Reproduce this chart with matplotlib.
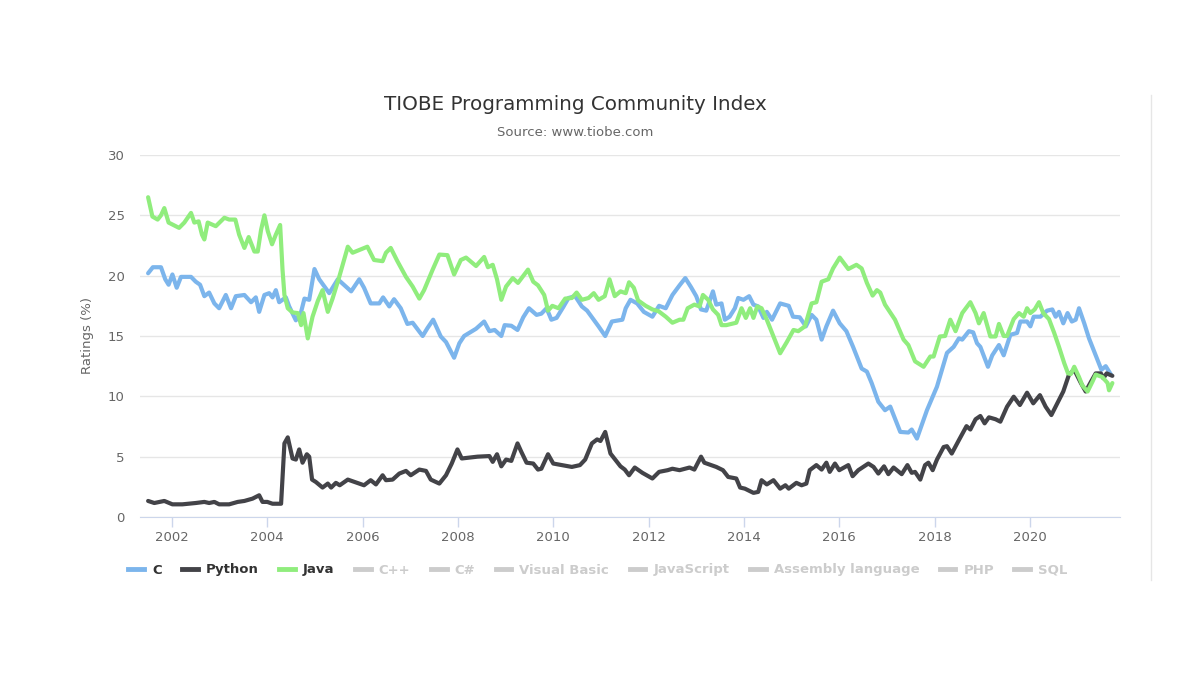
import numpy as np
import matplotlib
matplotlib.use("Agg")
import matplotlib.pyplot as plt
from matplotlib.lines import Line2D

# ratings (decimal year, percent)
c_years = [2001.50, 2001.60, 2001.77, 2001.86, 2001.93, 2002.01, 2002.10, 2002.19, 2002.40, 2002.50,
           2002.59, 2002.68, 2002.78, 2002.89, 2002.99, 2003.13, 2003.24, 2003.34, 2003.52, 2003.66,
           2003.76, 2003.83, 2003.94, 2004.04, 2004.11, 2004.18, 2004.25, 2004.39, 2004.46, 2004.60,
           2004.71, 2004.78, 2004.88, 2004.99, 2005.09, 2005.20, 2005.30, 2005.48, 2005.62, 2005.76,
           2005.93, 2006.03, 2006.17, 2006.35, 2006.43, 2006.56, 2006.66, 2006.80, 2006.94, 2007.05,
           2007.26, 2007.36, 2007.48, 2007.64, 2007.75, 2007.92, 2008.03, 2008.13, 2008.38, 2008.55,
           2008.66, 2008.77, 2008.91, 2008.98, 2009.12, 2009.25, 2009.37, 2009.49, 2009.65, 2009.75,
           2009.86, 2009.96, 2010.07, 2010.21, 2010.32, 2010.46, 2010.60, 2010.71, 2010.85, 2010.95,
           2011.09, 2011.23, 2011.45, 2011.52, 2011.62, 2011.76, 2011.90, 2012.08, 2012.22, 2012.36,
           2012.50, 2012.65, 2012.77, 2012.89, 2013.00, 2013.10, 2013.21, 2013.35, 2013.42, 2013.53,
           2013.60, 2013.70, 2013.81, 2013.88, 2013.99, 2014.11, 2014.20, 2014.30, 2014.41, 2014.48,
           2014.59, 2014.76, 2014.94, 2015.03, 2015.17, 2015.30, 2015.42, 2015.52, 2015.63, 2015.73,
           2015.87, 2016.01, 2016.15, 2016.29, 2016.47, 2016.58, 2016.68, 2016.82, 2016.96, 2017.07,
           2017.28, 2017.45, 2017.52, 2017.63, 2017.84, 2018.05, 2018.26, 2018.40, 2018.51, 2018.58,
           2018.72, 2018.81, 2018.89, 2018.96, 2019.12, 2019.21, 2019.35, 2019.45, 2019.59, 2019.73,
           2019.80, 2019.94, 2020.01, 2020.08, 2020.22, 2020.36, 2020.47, 2020.54, 2020.61, 2020.70,
           2020.79, 2020.88, 2020.96, 2021.03, 2021.14, 2021.24, 2021.38, 2021.50, 2021.59, 2021.70]
c_vals = [20.2, 20.7, 20.7, 19.7, 19.25, 20.1, 19.0, 19.9, 19.9, 19.5,
          19.25, 18.3, 18.6, 17.7, 17.3, 18.4, 17.3, 18.3, 18.4, 17.8,
          18.2, 17.0, 18.4, 18.55, 18.2, 18.8, 17.8, 18.2, 17.45, 16.3,
          17.0, 18.1, 18.0, 20.55, 19.7, 19.1, 18.55, 19.7, 19.2, 18.7,
          19.7, 19.0, 17.7, 17.7, 18.2, 17.45, 18.05, 17.3, 16.0, 16.1,
          15.0, 15.65, 16.35, 14.96, 14.5, 13.2, 14.4, 15.0, 15.6, 16.2,
          15.4, 15.5, 15.0, 15.9, 15.85, 15.5, 16.55, 17.3, 16.75, 16.85,
          17.3, 16.35, 16.5, 17.4, 18.15, 18.3, 17.45, 17.1, 16.35, 15.8,
          15.0, 16.2, 16.35, 17.3, 18.0, 17.7, 17.0, 16.6, 17.5, 17.3,
          18.4, 19.2, 19.8, 19.05, 18.3, 17.2, 17.1, 18.7, 17.6, 17.7,
          16.35, 16.6, 17.3, 18.15, 18.0, 18.3, 17.6, 17.45, 16.5, 17.0,
          16.35, 17.7, 17.5, 16.6, 16.55, 15.8, 16.75, 16.35, 14.7, 15.8,
          17.1, 16.05, 15.4, 14.1, 12.3, 12.05, 11.1, 9.55, 8.85, 9.15,
          7.05, 7.0, 7.25, 6.5, 8.85, 10.8, 13.6, 14.1, 14.8, 14.7,
          15.4, 15.3, 14.4, 14.1, 12.45, 13.4, 14.25, 13.4, 15.1, 15.25,
          16.2, 16.2, 15.8, 16.6, 16.6, 17.1, 17.2, 16.6, 17.0, 16.05,
          16.9, 16.2, 16.35, 17.3, 16.05, 14.8, 13.4, 12.2, 12.5, 11.8]

py_years = [2001.50, 2001.63, 2001.84, 2002.01, 2002.22, 2002.50, 2002.68, 2002.78, 2002.89, 2002.99,
            2003.20, 2003.38, 2003.52, 2003.69, 2003.83, 2003.90, 2004.00, 2004.11, 2004.29, 2004.36,
            2004.43, 2004.53, 2004.60, 2004.67, 2004.74, 2004.83, 2004.88, 2004.94, 2005.02, 2005.16,
            2005.27, 2005.34, 2005.44, 2005.52, 2005.69, 2006.03, 2006.17, 2006.28, 2006.42, 2006.49,
            2006.63, 2006.77, 2006.91, 2007.01, 2007.19, 2007.33, 2007.43, 2007.61, 2007.75, 2007.87,
            2007.99, 2008.08, 2008.41, 2008.66, 2008.73, 2008.82, 2008.91, 2009.01, 2009.12, 2009.25,
            2009.33, 2009.44, 2009.58, 2009.68, 2009.75, 2009.89, 2010.00, 2010.18, 2010.39, 2010.56,
            2010.67, 2010.81, 2010.92, 2010.99, 2011.09, 2011.20, 2011.31, 2011.41, 2011.50, 2011.59,
            2011.71, 2011.87, 2012.08, 2012.22, 2012.40, 2012.50, 2012.65, 2012.86, 2012.96, 2013.10,
            2013.17, 2013.42, 2013.56, 2013.67, 2013.84, 2013.92, 2014.02, 2014.20, 2014.30, 2014.37,
            2014.48, 2014.62, 2014.76, 2014.87, 2014.94, 2015.10, 2015.21, 2015.31, 2015.38, 2015.52,
            2015.63, 2015.73, 2015.80, 2015.91, 2016.00, 2016.19, 2016.28, 2016.40, 2016.61, 2016.72,
            2016.82, 2016.94, 2017.03, 2017.14, 2017.31, 2017.43, 2017.52, 2017.59, 2017.70, 2017.80,
            2017.87, 2017.96, 2018.05, 2018.19, 2018.26, 2018.36, 2018.51, 2018.67, 2018.75, 2018.86,
            2018.96, 2019.05, 2019.14, 2019.28, 2019.38, 2019.52, 2019.66, 2019.79, 2019.94, 2020.07,
            2020.21, 2020.33, 2020.45, 2020.61, 2020.70, 2020.82, 2020.93, 2021.07, 2021.17, 2021.28,
            2021.38, 2021.49, 2021.54, 2021.61, 2021.73]
py_vals = [1.33, 1.16, 1.33, 1.05, 1.05, 1.16, 1.25, 1.16, 1.25, 1.05,
           1.05, 1.25, 1.33, 1.52, 1.8, 1.25, 1.25, 1.1, 1.1, 6.1,
           6.6, 4.85, 4.76, 5.6, 4.5, 5.2, 5.0, 3.1, 2.9, 2.44,
           2.77, 2.44, 2.83, 2.63, 3.1, 2.63, 3.05, 2.7, 3.46, 3.05,
           3.1, 3.6, 3.82, 3.46, 3.93, 3.82, 3.1, 2.77, 3.46, 4.43,
           5.6, 4.85, 5.0, 5.05, 4.57, 5.2, 4.2, 4.76, 4.65, 6.1,
           5.4, 4.5, 4.43, 3.93, 4.0, 5.2, 4.43, 4.3, 4.15, 4.3,
           4.76, 6.1, 6.43, 6.3, 7.05, 5.26, 4.7, 4.2, 3.93, 3.46,
           4.1, 3.66, 3.19, 3.74, 3.88, 4.0, 3.88, 4.1, 3.93, 5.0,
           4.5, 4.15, 3.88, 3.32, 3.19, 2.44, 2.35, 2.0, 2.08, 3.05,
           2.7, 3.05, 2.35, 2.63, 2.35, 2.83, 2.63, 2.77, 3.88, 4.3,
           3.93, 4.5, 3.74, 4.43, 3.88, 4.3, 3.38, 3.88, 4.43, 4.15,
           3.6, 4.2, 3.55, 4.1, 3.55, 4.3, 3.66, 3.74, 3.1, 4.3,
           4.5, 3.88, 4.76, 5.8, 5.87, 5.26, 6.37, 7.53, 7.25, 8.1,
           8.37, 7.76, 8.26, 8.1, 7.9, 9.14, 9.97, 9.28, 10.3, 9.42,
           10.1, 9.14, 8.45, 9.7, 10.4, 11.8, 12.2, 11.1, 10.4, 11.2,
           11.9, 11.9, 11.5, 11.9, 11.7]

java_years = [2001.50, 2001.59, 2001.70, 2001.77, 2001.84, 2001.93, 2002.15, 2002.26, 2002.40, 2002.47,
              2002.56, 2002.63, 2002.68, 2002.75, 2002.92, 2003.10, 2003.20, 2003.33, 2003.41, 2003.52,
              2003.61, 2003.73, 2003.80, 2003.87, 2003.94, 2004.01, 2004.10, 2004.18, 2004.27, 2004.32,
              2004.36, 2004.43, 2004.53, 2004.64, 2004.71, 2004.76, 2004.85, 2004.95, 2005.06, 2005.16,
              2005.27, 2005.37, 2005.51, 2005.69, 2005.79, 2006.10, 2006.24, 2006.42, 2006.49, 2006.59,
              2006.73, 2006.91, 2007.05, 2007.19, 2007.29, 2007.47, 2007.61, 2007.78, 2007.92, 2008.06,
              2008.17, 2008.38, 2008.55, 2008.63, 2008.73, 2008.82, 2008.91, 2009.01, 2009.15, 2009.26,
              2009.47, 2009.58, 2009.68, 2009.81, 2009.89, 2009.98, 2010.11, 2010.25, 2010.39, 2010.49,
              2010.60, 2010.74, 2010.85, 2010.95, 2011.08, 2011.18, 2011.29, 2011.41, 2011.52, 2011.59,
              2011.69, 2011.78, 2011.94, 2012.08, 2012.21, 2012.36, 2012.50, 2012.65, 2012.73, 2012.82,
              2012.96, 2013.07, 2013.14, 2013.25, 2013.35, 2013.46, 2013.53, 2013.63, 2013.84, 2013.95,
              2014.04, 2014.13, 2014.20, 2014.28, 2014.37, 2014.48, 2014.62, 2014.76, 2014.90, 2015.04,
              2015.14, 2015.28, 2015.42, 2015.52, 2015.63, 2015.77, 2015.87, 2016.01, 2016.19, 2016.36,
              2016.47, 2016.58, 2016.70, 2016.79, 2016.86, 2016.96, 2017.17, 2017.35, 2017.45, 2017.59,
              2017.77, 2017.91, 2017.98, 2018.11, 2018.22, 2018.33, 2018.44, 2018.58, 2018.75, 2018.86,
              2018.93, 2019.03, 2019.17, 2019.28, 2019.35, 2019.45, 2019.52, 2019.66, 2019.77, 2019.87,
              2019.94, 2020.01, 2020.10, 2020.19, 2020.28, 2020.40, 2020.51, 2020.61, 2020.72, 2020.80,
              2020.86, 2020.93, 2021.03, 2021.10, 2021.21, 2021.31, 2021.38, 2021.52, 2021.63, 2021.66,
              2021.73]
java_vals = [26.5, 24.9, 24.65, 25.0, 25.6, 24.4, 23.96, 24.4, 25.2, 24.4,
             24.5, 23.4, 23.0, 24.4, 24.1, 24.8, 24.65, 24.65, 23.4, 22.3,
             23.2, 22.0, 22.0, 23.8, 25.0, 23.7, 22.6, 23.4, 24.2, 20.5,
             18.4, 17.3, 16.95, 16.9, 15.9, 16.9, 14.8, 16.6, 17.9, 18.8,
             17.0, 18.1, 19.9, 22.4, 21.9, 22.4, 21.3, 21.2, 21.9, 22.3,
             21.2, 19.9, 19.1, 18.1, 18.8, 20.5, 21.75, 21.7, 20.1, 21.3,
             21.5, 20.8, 21.55, 20.7, 20.9, 19.7, 18.0, 19.1, 19.8, 19.4,
             20.5, 19.5, 19.2, 18.4, 17.1, 17.5, 17.3, 18.1, 18.15, 18.6,
             18.0, 18.15, 18.55, 18.0, 18.3, 19.7, 18.3, 18.7, 18.55, 19.45,
             19.0, 17.95, 17.5, 17.2, 17.05, 16.6, 16.1, 16.35, 16.35, 17.3,
             17.6, 17.45, 18.4, 18.0, 17.2, 16.75, 15.9, 15.9, 16.1, 17.3,
             16.5, 17.3, 16.5, 17.45, 17.3, 16.35, 14.96, 13.57, 14.5, 15.5,
             15.4, 15.8, 17.7, 17.8, 19.5, 19.7, 20.6, 21.5, 20.55, 20.9,
             20.6, 19.4, 18.35, 18.8, 18.6, 17.6, 16.35, 14.7, 14.25, 12.9,
             12.45, 13.3, 13.3, 14.96, 15.0, 16.35, 15.4, 16.9, 17.8, 16.9,
             16.05, 16.9, 14.96, 14.96, 16.0, 15.0, 15.0, 16.4, 16.9, 16.6,
             17.3, 16.9, 17.2, 17.8, 16.9, 16.4, 15.25, 14.1, 12.75, 11.9,
             11.85, 12.45, 11.6, 10.9, 10.4, 11.2, 11.8, 11.6, 11.1, 10.5,
             11.1]

shown = ["C", "Python", "Java"]
hidden = ["C++", "C#", "Visual Basic", "JavaScript", "Assembly language", "PHP", "SQL"]
colors = {"C": "#7cb5ec", "Python": "#434348", "Java": "#90ed7d"}
x_ticks = [2002, 2004, 2006, 2008, 2010, 2012, 2014, 2016, 2018, 2020]
y_ticks = [0, 5, 10, 15, 20, 25, 30]

plt.rcParams['font.family'] = ['DejaVu Sans']

fig = plt.figure(figsize=(12, 6.75), dpi=100)
ax = fig.add_axes([140/1200, 1 - 517/675, 980/1200, 362/675])

series = {"C": (c_years, c_vals), "Python": (py_years, py_vals), "Java": (java_years, java_vals)}
for name in ["C", "Python", "Java"]:
    xs, ys = series[name]
    ax.plot(xs, ys, color=colors[name], lw=3.0, solid_joinstyle='round', solid_capstyle='round')

ax.set_xlim(2001.33, 2021.89)
ax.set_ylim(0, 30)
ax.set_xticks(x_ticks)
ax.set_xticklabels([str(t) for t in x_ticks])
ax.set_yticks(y_ticks)
ax.grid(axis='y', color='#e6e6e6', lw=1)
ax.set_axisbelow(True)
for s in ['top', 'right', 'left']:
    ax.spines[s].set_visible(False)
ax.spines['bottom'].set_color('#ccd6eb')
ax.tick_params(axis='x', colors='#ccd6eb', length=7, width=1, labelcolor='#666666', labelsize=9.5, pad=3)
ax.tick_params(axis='y', length=0, labelcolor='#666666', labelsize=9.5, pad=11)
ax.set_ylabel('Ratings (%)', color='#666666', fontsize=9.5, labelpad=10)

fig.text(575/1200, 1 - 105/675, 'TIOBE Programming Community Index', ha='center', va='center',
         fontsize=14.3, color='#333333')
fig.text(575/1200, 1 - 132/675, 'Source: www.tiobe.com', ha='center', va='center',
         fontsize=9.5, color='#666666')

# right border of chart container
fig.add_artist(Line2D([1151/1200, 1151/1200], [1 - 95/675, 1 - 580/675], color='#e6e6e6', lw=1))

handles = []
labels = []
for name in shown + hidden:
    col = colors.get(name, '#cccccc')
    handles.append(Line2D([0], [0], color=col, lw=3.5))
    labels.append(name)
leg = fig.legend(handles, labels, ncol=10, loc='center', bbox_to_anchor=(598/1200, 1 - 570/675),
                 frameon=False, handlelength=1.2, handletextpad=0.6, columnspacing=1.55,
                 prop={'weight': 'bold', 'size': 9.5})
for txt, name in zip(leg.get_texts(), labels):
    txt.set_color('#333333' if name in shown else '#cccccc')

fig.savefig('out.png', dpi=100, facecolor='white')
